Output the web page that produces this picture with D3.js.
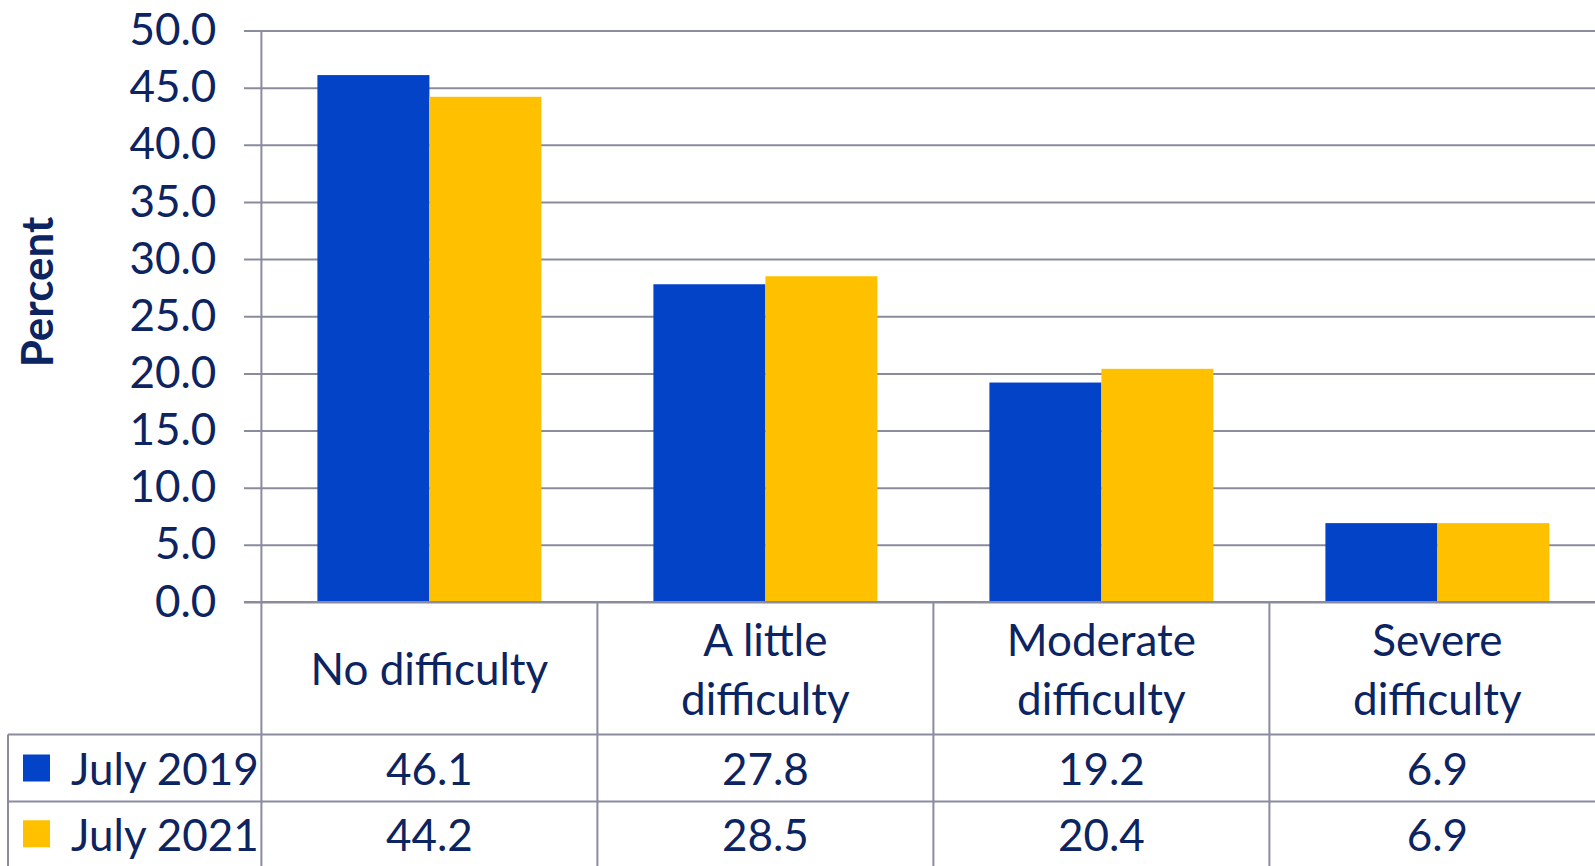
<!DOCTYPE html>
<html>
<head>
<meta charset="utf-8">
<script src="https://cdn.jsdelivr.net/npm/d3@7"></script>
<style>
  html, body { margin: 0; padding: 0; background: #ffffff; overflow: hidden; }
  svg { display: block; }
  text { font-family: Lato, "Open Sans", sans-serif; fill: #0c2461; }
</style>
</head>
<body>
<svg id="chart" width="1595" height="866"></svg>
<script>
const categories = ["No difficulty", "A little difficulty", "Moderate difficulty", "Severe difficulty"];
const categoryLines = [["No difficulty"], ["A little", "difficulty"], ["Moderate", "difficulty"], ["Severe", "difficulty"]];
const seriesNames = ["July 2019", "July 2021"];
const july2019 = [46.1, 27.8, 19.2, 6.9];
const july2021 = [44.2, 28.5, 20.4, 6.9];
const yTicks = [0, 5, 10, 15, 20, 25, 30, 35, 40, 45, 50];
const colors = ["#0343c8", "#ffc000"];

const seriesValues = [july2019, july2021];
const W = 1595, H = 866;
const axisX = 261.4, gridLeft = 244, right = 1595, bandEnd = 1605.4;
const yTop = 30.5, yZero = 602;
const row1Top = 734.5, row2Top = 801.5, tableLeft = 8;
const lineColor = "#8a8c9e";
const fs = "44px";

const svg = d3.select("#chart");

const x = d3.scaleBand().domain(categories).range([axisX, bandEnd]).paddingInner(0).paddingOuter(0);
const xs = d3.scaleBand().domain(seriesNames).range([0, x.bandwidth()]).paddingInner(0).paddingOuter(0.5);
const y = d3.scaleLinear().domain([0, 50]).range([yZero, yTop]);

// gridlines
const grid = svg.append("g").attr("transform", `translate(${gridLeft},0)`)
  .call(d3.axisRight(y).tickValues(yTicks).tickSize(right - gridLeft).tickFormat(""));
grid.select(".domain").remove();
grid.selectAll("line").attr("stroke", lineColor).attr("stroke-width", 2);

// y labels
const yl = svg.append("g").attr("transform", `translate(${axisX},0)`)
  .call(d3.axisLeft(y).tickValues(yTicks).tickSize(0).tickPadding(45).tickFormat(d3.format(".1f")));
yl.select(".domain").remove();
yl.selectAll("text").style("font-size", fs).attr("fill", "#0c2461").attr("font-family", "Lato");

// bars
const groups = svg.append("g").selectAll("g")
  .data(categories).join("g")
  .attr("transform", d => `translate(${x(d)},0)`);
groups.selectAll("rect")
  .data((d, i) => seriesNames.map((s, j) => ({ s, v: seriesValues[j][i], j })))
  .join("rect")
  .attr("x", d => xs(d.s))
  .attr("width", xs.bandwidth())
  .attr("y", d => y(d.v))
  .attr("height", d => y(0) - y(d.v))
  .attr("fill", d => colors[d.j]);

// zero line on top of bars
svg.append("line").attr("x1", gridLeft).attr("x2", right).attr("y1", y(0)).attr("y2", y(0))
  .attr("stroke", lineColor).attr("stroke-width", 2);

// y axis vertical line (extends through table)
svg.append("line").attr("x1", axisX).attr("x2", axisX).attr("y1", yTop).attr("y2", H)
  .attr("stroke", lineColor).attr("stroke-width", 2);

// table lines
const tbl = svg.append("g");
categories.slice(1).forEach(c => {
  tbl.append("line").attr("x1", x(c)).attr("x2", x(c)).attr("y1", y(0)).attr("y2", H)
    .attr("stroke", lineColor).attr("stroke-width", 2);
});
[row1Top, row2Top].forEach(yy => {
  tbl.append("line").attr("x1", tableLeft).attr("x2", right).attr("y1", yy).attr("y2", yy)
    .attr("stroke", lineColor).attr("stroke-width", 2);
});
tbl.append("line").attr("x1", tableLeft).attr("x2", tableLeft).attr("y1", row1Top).attr("y2", H)
  .attr("stroke", lineColor).attr("stroke-width", 2);

// category labels
const headerMid = (y(0) + row1Top) / 2;
const lineH = 59;
categories.forEach((c, i) => {
  const lines = categoryLines[i];
  const cx = x(c) + x.bandwidth() / 2;
  lines.forEach((ln, k) => {
    svg.append("text").attr("x", cx)
      .attr("y", headerMid + (k - (lines.length - 1) / 2) * lineH)
      .attr("text-anchor", "middle").attr("dominant-baseline", "central")
      .style("font-size", fs).text(ln);
  });
});

// table values + legend
const rowMids = [(row1Top + row2Top) / 2, (row2Top + H) / 2];
seriesNames.forEach((s, j) => {
  const ry = rowMids[j];
  svg.append("rect").attr("x", 23).attr("y", ry - 13.5).attr("width", 27).attr("height", 27).attr("fill", colors[j]);
  svg.append("text").attr("x", 71).attr("y", ry).attr("dominant-baseline", "central")
    .style("font-size", fs).text(s);
  categories.forEach((c, i) => {
    svg.append("text").attr("x", x(c) + x.bandwidth() / 2).attr("y", ry)
      .attr("text-anchor", "middle").attr("dominant-baseline", "central")
      .style("font-size", fs).text(seriesValues[j][i].toFixed(1));
  });
});

// y axis title
svg.append("text")
  .attr("transform", `translate(36,${292}) rotate(-90)`)
  .attr("text-anchor", "middle").attr("dominant-baseline", "central")
  .style("font-size", "44px").style("font-weight", "bold").text("Percent");
</script>
</body>
</html>
